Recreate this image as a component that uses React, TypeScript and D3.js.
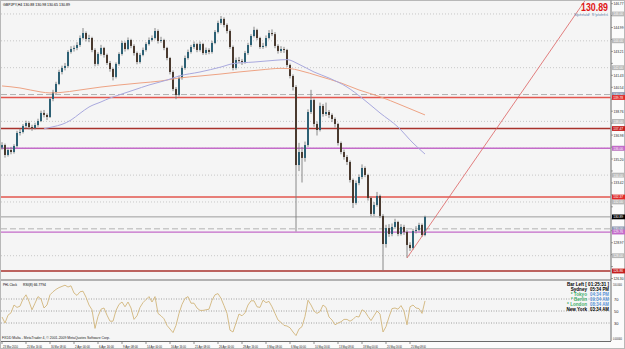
import React from "react";
import * as d3 from "d3";

// GBPJPY,H4 - Mar 23 .. May 26 2010 (one bar per 3px)
const opens = [
  136.05, 136.24, 135.5, 135.87, 135.72, 136.17, 137.14, 137.21, 137.66, 137.88,
  137.58, 137.51, 137.73, 138.03, 138.63, 138.48, 138.33, 139.67, 140.19, 140.79,
  141.68, 141.98, 142.13, 143.17, 143.39, 143.47, 143.69, 144.21, 144.58, 144.14,
  144.21, 143.32, 142.28, 143.02, 143.47, 142.95, 142.35, 141.9, 141.31, 142.28,
  143.02, 143.84, 143.39, 144.06, 143.62, 143.09, 142.42, 142.95, 143.32, 143.76,
  144.06, 144.21, 144.73, 143.99, 144.06, 143.47, 142.72, 141.68, 140.41, 139.97,
  141.23, 141.98, 142.72, 143.17, 143.54, 143.76, 143.32, 143.76, 143.09, 143.32,
  143.17, 143.84, 144.66, 145.33, 145.63, 145.18, 144.73, 143.54, 141.98, 142.57,
  142.5, 142.42, 143.09, 143.69, 144.36, 144.81, 144.21, 143.54, 143.62, 144.21,
  144.58, 144.5, 143.62, 143.24, 143.39, 143.32, 142.2, 141.38, 140.56, 134.75,
  135.72, 135.28, 136.24, 138.7, 139.59, 137.81, 137.36, 139.15, 138.55, 138.7,
  138.48, 138.18, 137.81, 136.39, 135.72, 135.35, 134.98, 133.64, 131.93, 133.41,
  133.86, 134.53, 134.01, 132.3, 131.11, 131.78, 132.45, 130.96, 128.87, 130.06,
  129.62, 130.14, 130.51, 129.62, 130.14, 129.77, 128.8, 128.57, 129.84, 129.91,
  130.29, 129.54,
];
const highs = [
  136.45, 136.35, 136.05, 136.1, 136.3, 137.3, 137.45, 137.8, 138.05, 138.0,
  137.75, 137.9, 138.2, 138.8, 138.85, 138.6, 139.8, 140.35, 140.95, 141.85,
  142.15, 142.35, 143.3, 143.6, 143.65, 143.9, 144.4, 144.95, 144.7, 144.45,
  144.3, 143.45, 143.15, 143.7, 143.55, 143.05, 142.5, 142.0, 142.4, 143.15,
  144.0, 143.95, 144.25, 144.15, 143.75, 143.2, 143.1, 143.5, 143.9, 144.25,
  144.4, 144.95, 144.85, 144.3, 144.15, 143.55, 142.8, 141.8, 140.55, 141.4,
  142.15, 142.9, 143.35, 143.7, 143.95, 143.85, 143.95, 143.85, 143.5, 143.45,
  144.0, 144.8, 145.5, 145.85, 145.75, 145.3, 144.85, 143.65, 142.75, 142.8,
  142.65, 143.25, 143.85, 144.5, 145.05, 144.9, 144.3, 143.85, 144.4, 144.8,
  144.85, 144.65, 143.75, 143.6, 143.55, 143.4, 142.3, 141.5, 140.7, 136.4,
  136.1, 136.5, 138.9, 140.35, 139.7, 138.0, 139.4, 139.3, 139.4, 138.85,
  138.6, 138.3, 137.9, 136.5, 135.9, 135.5, 135.1, 133.75, 133.6, 134.05,
  134.8, 134.65, 134.1, 132.4, 132.0, 132.75, 132.55, 131.1, 130.3, 130.35,
  130.4, 130.75, 130.6, 130.35, 130.3, 129.9, 129.0, 130.0, 130.2, 130.45,
  130.4, 130.98,
];
const lows = [
  135.9, 135.3, 135.38, 135.55, 135.6, 136.05, 136.95, 137.1, 137.5, 137.4,
  137.3, 137.4, 137.6, 137.95, 138.3, 138.1, 138.25, 139.5, 140.05, 140.7,
  141.5, 141.8, 142.0, 143.05, 143.2, 143.3, 143.55, 144.1, 143.95, 143.9,
  143.15, 142.1, 142.15, 142.9, 142.75, 142.2, 141.7, 141.05, 141.2, 142.15,
  142.9, 143.2, 143.3, 143.45, 142.9, 142.25, 142.3, 142.85, 143.2, 143.65,
  143.95, 144.1, 143.8, 143.85, 143.3, 142.55, 141.5, 140.25, 139.65, 139.85,
  141.1, 141.85, 142.6, 143.05, 143.4, 143.15, 143.2, 142.95, 142.95, 143.0,
  143.05, 143.75, 144.55, 145.2, 145.0, 144.55, 143.4, 141.8, 141.85, 142.35,
  142.2, 142.3, 142.95, 143.55, 144.25, 144.05, 143.4, 143.4, 143.5, 144.1,
  144.35, 143.45, 143.05, 143.1, 143.1, 142.05, 141.2, 140.3, 129.8, 134.3,
  133.45, 135.0, 136.1, 138.55, 137.6, 136.95, 137.25, 138.35, 138.4, 138.25,
  137.95, 137.55, 136.2, 135.55, 135.15, 134.75, 133.45, 131.55, 131.8, 133.25,
  133.7, 133.85, 132.1, 130.95, 130.95, 131.65, 130.8, 126.9, 128.6, 129.4,
  129.45, 130.0, 129.45, 129.5, 129.55, 127.85, 128.35, 128.45, 129.65, 129.8,
  129.4, 129.45,
];
const closes = [
  136.24, 135.5, 135.87, 135.72, 136.17, 137.14, 137.21, 137.66, 137.88, 137.58,
  137.51, 137.73, 138.03, 138.63, 138.48, 138.33, 139.67, 140.19, 140.79, 141.68,
  141.98, 142.13, 143.17, 143.39, 143.47, 143.69, 144.21, 144.58, 144.14, 144.21,
  143.32, 142.28, 143.02, 143.47, 142.95, 142.35, 141.9, 141.31, 142.28, 143.02,
  143.84, 143.39, 144.06, 143.62, 143.09, 142.42, 142.95, 143.32, 143.76, 144.06,
  144.21, 144.73, 143.99, 144.06, 143.47, 142.72, 141.68, 140.41, 139.97, 141.23,
  141.98, 142.72, 143.17, 143.54, 143.76, 143.32, 143.76, 143.09, 143.32, 143.17,
  143.84, 144.66, 145.33, 145.63, 145.18, 144.73, 143.54, 141.98, 142.57, 142.5,
  142.42, 143.09, 143.69, 144.36, 144.81, 144.21, 143.54, 143.62, 144.21, 144.58,
  144.5, 143.62, 143.24, 143.39, 143.32, 142.2, 141.38, 140.56, 134.75, 135.72,
  135.28, 136.24, 138.7, 139.59, 137.81, 137.36, 139.15, 138.55, 138.7, 138.48,
  138.18, 137.81, 136.39, 135.72, 135.35, 134.98, 133.64, 131.93, 133.41, 133.86,
  134.53, 134.01, 132.3, 131.11, 131.78, 132.45, 130.96, 128.87, 130.06, 129.62,
  130.14, 130.51, 129.62, 130.14, 129.77, 128.8, 128.57, 129.84, 129.91, 130.29,
  129.54, 130.89,
];
const rsiValues = [
  40, 30, 43, 47, 60, 56, 58, 70, 77, 66,
  52, 63, 74, 70, 55, 60, 77, 82, 86, 89,
  91, 93, 90, 92, 80, 76, 82, 83, 73, 60,
  52, 21, 41, 53, 55, 43, 33, 33, 51, 61,
  65, 57, 65, 55, 36, 42, 56, 64, 69, 74,
  65, 74, 46, 42, 37, 26, 20, 14, 26, 46,
  61, 71, 74, 63, 63, 55, 51, 51, 52, 53,
  68, 77, 79, 71, 59, 46, 18, 15, 30, 45,
  42, 47, 60, 67, 67, 57, 56, 68, 64, 66,
  57, 46, 35, 31, 26, 25, 22, 15, 9, 20,
  24, 41, 68, 60, 50, 46, 49, 60, 56, 40,
  35, 27, 30, 32, 36, 36, 33, 36, 41, 40,
  52, 49, 41, 34, 42, 50, 45, 15, 24, 40,
  54, 55, 53, 59, 50, 27, 57, 60, 55, 54,
  46, 66.78,
];

// moving averages: [bar index, price]
const maSlow: [number, number][] = [
  [0, 140.64], [6, 140.49], [13, 140.19], [16, 140.12], [19, 140.14], [26, 140.34],
  [33, 140.56], [39, 140.71], [46, 140.86], [53, 141.01], [59, 141.23], [66, 141.38],
  [73, 141.53], [79, 141.68], [86, 141.83], [93, 141.95], [96, 141.93], [99, 141.8],
  [106, 141.35], [113, 140.86], [119, 140.34], [126, 139.84], [133, 139.22], [141, 138.48],
];
const maFast: [number, number][] = [
  [14, 137.45], [17, 137.6], [20, 137.78], [23, 138.1], [26, 138.6], [29, 139.07],
  [33, 139.45], [36, 139.74], [39, 139.97], [44, 140.34], [49, 140.71], [55, 141.08],
  [59, 141.38], [66, 141.68], [73, 142.05], [77, 142.3], [84, 142.42], [91, 142.55],
  [95, 142.6], [99, 142.25], [104, 141.68], [109, 141.23], [115, 140.56], [120, 139.74],
  [126, 138.63], [132, 137.58], [137, 136.39], [141, 135.57],
];

const timeLabels = [
  "23 Mar 2010", "25 Mar 16:00", "30 Mar 08:00", "2 Apr 00:00", "6 Apr 16:00",
  "9 Apr 08:00", "14 Apr 00:00", "16 Apr 16:00", "21 Apr 08:00", "26 Apr 00:00",
  "28 Apr 16:00", "3 May 08:00", "6 May 00:00", "10 May 16:00", "13 May 08:00",
  "18 May 00:00", "20 May 16:00", "25 May 08:00",
];
const priceLabels = [
  126.3, 127.19, 128.08, 128.97, 129.86, 130.75, 131.64, 132.53, 133.42, 134.31,
  135.2, 136.09, 136.98, 137.87, 138.76, 139.65, 140.54, 141.43, 142.32, 143.21,
  144.1, 144.99, 145.88, 146.77,
];

const dottedLevels = [146, 144, 142, 138, 136, 134, 132, 128];
const dashedLevels = [140, 130];
const redLevels = [139.78, 132.37];
const darkRedLevels = [137.47, 126.86];
const purpleLevels = [136.0, 129.76];
const bidPrice = 130.89;
const trendPoints: [number, number][] = [[135, 127.83], [196, 147.53]];
const rsiLevels = [70, 50, 30];
const rsiScaleLabels = ["100.0000", "0.000000"];

const clockNames = ["Sydney", "* Tokyo", "* Berlin", "* London", "New York"];
const clockTimes = ["05:34 PM", "04:34 PM", "09:34 AM", "08:34 AM", "03:34 AM"];
const clockNameColors = ["#000", "#3fae6a", "#3fae6a", "#3fae6a", "#000"];
const clockTimeColors = ["#000", "#5b93d8", "#5b93d8", "#5b93d8", "#000"];

const W = 625;
const H = 349;
const right = 611;
const mainTop = 1;
const mainBottom = 279;
const rsiTop = 281;
const rsiBottom = 341;

export default function App() {
  const x = d3.scaleLinear().domain([0, closes.length - 1]).range([2, 425]);
  const y = d3.scaleLinear().domain([126.265, 146.965]).range([mainBottom, mainTop]);
  const yr = d3.scaleLinear().domain([0, 100]).range([rsiBottom, rsiTop]);

  const maPath = d3
    .line<[number, number]>()
    .x((d) => x(d[0]))
    .y((d) => y(d[1]))
    .curve(d3.curveMonotoneX);
  const rsiPath = d3
    .line<number>()
    .x((d, i) => x(i))
    .y((d) => yr(d));

  // every level that gets a coloured box on the price scale
  const boxed = [...dottedLevels, ...dashedLevels, ...redLevels, ...darkRedLevels, ...purpleLevels, bidPrice];
  const freeLabels = priceLabels.filter((p) => boxed.every((b) => Math.abs(y(b) - y(p)) > 5.4));

  const hline = (p: number, stroke: string, w: number, dash?: string, key?: string) => (
    <line key={key} x1={1} x2={right} y1={y(p)} y2={y(p)} stroke={stroke} strokeWidth={w} strokeDasharray={dash} />
  );
  const box = (p: number, fill: string, color: string, key: string) => (
    <g key={key}>
      <rect x={right + 1} y={y(p) - 2.4} width={13} height={4.8} fill={fill} />
      <text x={right + 2.2} y={y(p) + 1.4} fontSize={3.8} fill={color} textLength={10} lengthAdjust="spacingAndGlyphs">
        {p.toFixed(2)}
      </text>
    </g>
  );

  return (
    <svg
      width={W}
      height={H}
      style={{ position: "absolute", left: 0, top: 0, background: "#fff" }}
      fontFamily="'Liberation Sans', Arial, sans-serif"
    >
      <defs>
        <clipPath id="main-clip">
          <rect x={1} y={mainTop} width={right - 1} height={mainBottom - mainTop} />
        </clipPath>
      </defs>
      <rect x={0.5} y={0.5} width={W - 1} height={H - 1} fill="#fbfbfb" stroke="#b8b8b8" />
      <rect x={1} y={mainTop} width={right - 1} height={mainBottom - mainTop} fill="#f5f5f5" />
      <rect x={1} y={rsiTop} width={right - 1} height={rsiBottom - rsiTop} fill="#f5f5f5" />

      {/* horizontal objects */}
      <g clipPath="url(#main-clip)">
        {dottedLevels.map((p, i) => hline(p, "#bdbdbd", 0.8, "1 2", "dt" + i))}
        {dashedLevels.map((p, i) => hline(p, "#b2b2b2", 1, "6 3", "ds" + i))}
        {redLevels.map((p, i) => hline(p, "#e2564e", 1.3, undefined, "rd" + i))}
        {darkRedLevels.map((p, i) => hline(p, "#a8322c", 1.3, undefined, "dr" + i))}
        {purpleLevels.map((p, i) => hline(p, "#c36bc9", 1.3, undefined, "pl" + i))}
        {hline(bidPrice, "#9c9c9c", 1, undefined, "bid")}

        {/* candles */}
        {closes.map((c, i) => {
          const o = opens[i];
          const up = c >= o;
          const top = y(Math.max(o, c));
          const h = Math.max(1, Math.abs(y(o) - y(c)));
          return (
            <g key={"c" + i}>
              <line x1={x(i)} x2={x(i)} y1={y(highs[i])} y2={y(lows[i])} stroke="#7e7e7e" strokeWidth={0.9} />
              <rect x={x(i) - 1} y={top} width={2} height={h} fill={up ? "#2d6074" : "#4a3a2f"} />
            </g>
          );
        })}

        <path d={maPath(maSlow) ?? ""} fill="none" stroke="#eea384" strokeWidth={1} />
        <path d={maPath(maFast) ?? ""} fill="none" stroke="#a9a9de" strokeWidth={1} />
        <line
          x1={x(trendPoints[0][0])}
          y1={y(trendPoints[0][1])}
          x2={x(trendPoints[1][0])}
          y2={y(trendPoints[1][1])}
          stroke="#dc6060"
          strokeWidth={0.8}
        />
      </g>

      <text x={3} y={6} fontSize={4} fill="#000" textLength={67} lengthAdjust="spacingAndGlyphs">
        GBPJPY,H4  130.88 130.98 130.65 130.89
      </text>
      <text x={608} y={11} fontSize={10} fontWeight="bold" fill="#e01414" textAnchor="end" textLength={27} lengthAdjust="spacingAndGlyphs">
        130.89
      </text>
      <text x={608} y={15.8} fontSize={4.2} fill="#6f8fb3" textAnchor="end" textLength={34} lengthAdjust="spacingAndGlyphs">
        Spread: 9 points
      </text>

      {/* price axis */}
      <line x1={right} x2={right} y1={0} y2={rsiBottom} stroke="#9a9a9a" strokeWidth={1.5} />
      {priceLabels.map((p, i) => (
        <line key={"pt" + i} x1={right} x2={right + 2} y1={y(p)} y2={y(p)} stroke="#666" strokeWidth={0.6} />
      ))}
      {freeLabels.map((p, i) => (
        <text key={"pl" + i} x={right + 2.5} y={y(p) + 1.5} fontSize={3.8} fill="#222" textLength={10} lengthAdjust="spacingAndGlyphs">
          {p.toFixed(2)}
        </text>
      ))}
      {dottedLevels.map((p, i) => box(p, "#b9b9b9", "#fff", "bd" + i))}
      {dashedLevels.map((p, i) => box(p, "#8e97b2", "#fff", "bs" + i))}
      {redLevels.map((p, i) => box(p, "#e02a2a", "#fff", "br" + i))}
      {darkRedLevels.map((p, i) => box(p, "#c41e1e", "#fff", "bk" + i))}
      {purpleLevels.map((p, i) => box(p, "#c36bc9", "#fff", "bp" + i))}
      {box(bidPrice, "#000", "#fff", "bb")}

      {/* panel separators */}
      <line x1={1} x2={right} y1={280} y2={280} stroke="#6a6a6a" strokeWidth={1} />
      <line x1={1} x2={right} y1={rsiBottom + 0.5} y2={rsiBottom + 0.5} stroke="#6a6a6a" strokeWidth={1} />

      {/* RSI window */}
      {rsiLevels.map((v, i) => (
        <g key={"rl" + i}>
          <line x1={1} x2={right} y1={yr(v)} y2={yr(v)} stroke="#8a8a8a" strokeWidth={0.8} strokeDasharray="1 1.5" />
          <text x={right + 3} y={yr(v) + 1.5} fontSize={4} fill="#222">{v}</text>
        </g>
      ))}
      <text x={right + 2} y={yr(100) + 5} fontSize={3.2} fill="#222" textLength={9} lengthAdjust="spacingAndGlyphs">{rsiScaleLabels[0]}</text>
      <text x={right + 2} y={yr(0) - 1.5} fontSize={3.2} fill="#222" textLength={9} lengthAdjust="spacingAndGlyphs">{rsiScaleLabels[1]}</text>
      <path d={rsiPath(rsiValues) ?? ""} fill="none" stroke="#d1b57c" strokeWidth={0.9} />
      <text x={3} y={286} fontSize={4} fill="#000" textLength={14} lengthAdjust="spacingAndGlyphs">PHL Clock</text>
      <text x={23} y={286} fontSize={4} fill="#000" textLength={23} lengthAdjust="spacingAndGlyphs">RSI(8) 66.7794</text>

      <text x={609} y={286} fontSize={4.6} fontWeight="bold" fill="#000" textAnchor="end" textLength={42} lengthAdjust="spacingAndGlyphs">
        Bar Left [ 01:25:31 ]
      </text>
      {clockNames.map((n, i) => (
        <g key={"ck" + i}>
          <text x={587} y={291 + i * 4.9} fontSize={4.6} fontWeight="bold" fill={clockNameColors[i]} textAnchor="end">
            {n}
          </text>
          <text x={609} y={291 + i * 4.9} fontSize={4.6} fontWeight="bold" fill={clockTimeColors[i]} textAnchor="end" textLength={19} lengthAdjust="spacingAndGlyphs">
            {clockTimes[i]}
          </text>
        </g>
      ))}

      <text x={2} y={338.5} fontSize={3.6} fill="#222" textLength={108} lengthAdjust="spacingAndGlyphs">
        FXDD Malta - MetaTrader 4, © 2001-2009 MetaQuotes Software Corp.
      </text>

      {/* time axis */}
      {timeLabels.map((t, k) => (
        <g key={"t" + k}>
          <line x1={x(k * 8)} x2={x(k * 8)} y1={rsiBottom + 1} y2={rsiBottom + 3} stroke="#444" strokeWidth={0.6} />
          <text x={x(k * 8) + 1} y={347.5} fontSize={4} fill="#222" textLength={15} lengthAdjust="spacingAndGlyphs">
            {t}
          </text>
        </g>
      ))}
    </svg>
  );
}
